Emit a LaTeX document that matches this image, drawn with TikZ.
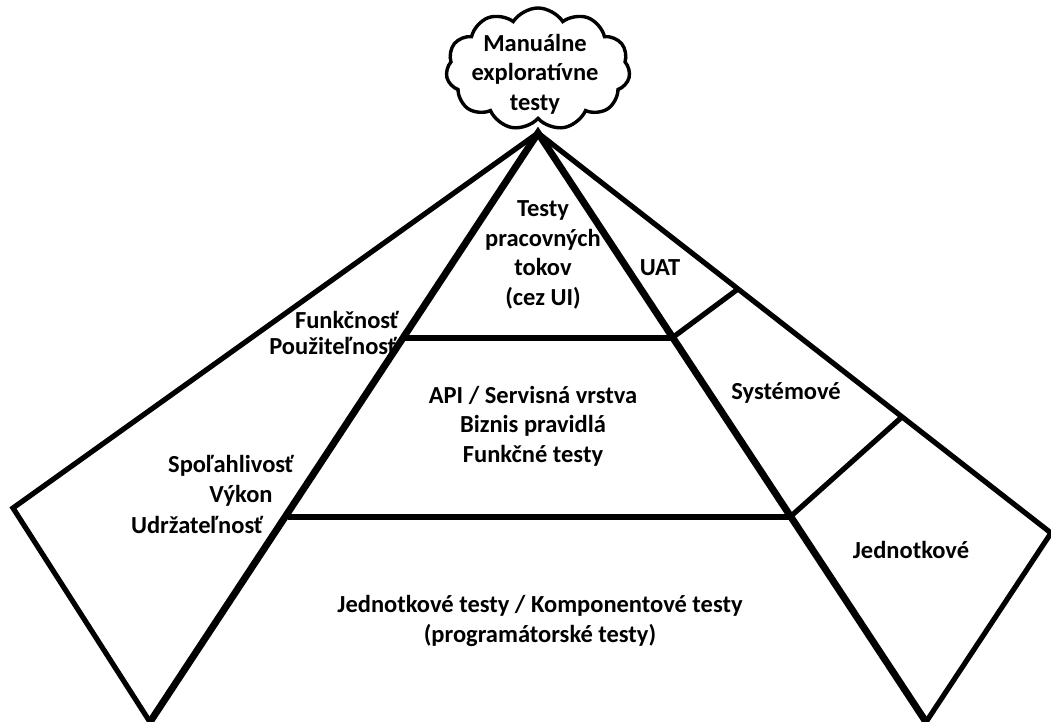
\documentclass[tikz,border=0pt]{standalone}
\usepackage{fontspec}
\setmainfont{Carlito}
\usetikzlibrary{shapes.symbols}
\begin{document}
\begin{tikzpicture}[x=1pt,y=-1pt,
  thick edge/.style={line width=7pt},
  thin edge/.style={line width=5.2pt},
  lbl/.style={font=\bfseries\fontsize{24.5}{29.5}\selectfont, align=center, inner sep=0pt},
  cloudbox/.style={cloud, cloud puffs=11, cloud puff arc=115, draw, line width=3.4pt,
    minimum width=184pt, minimum height=122pt, inner sep=0pt}]
\useasboundingbox (0,0) rectangle (1051,722);

% key points of the pyramid and its side panels
\coordinate (apex) at (538,133);
\coordinate (bl) at (150,722);
\coordinate (br) at (926,722);
\coordinate (ml) at (404,338);
\coordinate (mr) at (672,338);
\coordinate (ll) at (288,517);
\coordinate (lr) at (790,517);
\coordinate (wl) at (13,508);
\coordinate (wr) at (1051,533);
\coordinate (d1) at (738,289);
\coordinate (d2) at (903,416);

% side panels
\draw[thin edge] (apex) -- (wl) -- (bl);
\draw[thin edge] (apex) -- (wr) -- (br);
\draw[thin edge] (mr) -- (d1);
\draw[thin edge] (lr) -- (d2);

% pyramid and its layers
\draw[thick edge] (bl) -- (apex) -- (br);
\draw[thin edge] (ml) -- (mr);
\draw[thin edge] (ll) -- (lr);

% cloud on top
\node[cloudbox, fill=white] (cl) at (538,69) {};
\node[lbl] (cltext) at (535,74) {Manuálne\\exploratívne\\testy};

% labels inside the pyramid
\node[lbl] (top) at (543,255) {Testy\\pracovných\\tokov\\(cez UI)};
\node[lbl] (mid) at (533,426) {API / Servisná vrstva\\Biznis pravidlá\\Funkčné testy};
\node[lbl] (bot) at (540,621) {Jednotkové testy / Komponentové testy\\(programátorské testy)};

% labels of the right panel
\node[lbl] (uat) at (660,268) {UAT};
\node[lbl] (sys) at (786,393) {Systémové};
\node[lbl] (unit) at (911,550) {Jednotkové};

% labels of the left panel
\node[lbl, anchor=east] (fun) at (399,320) {Funkčnosť};
\node[lbl, anchor=east] (use) at (397,346) {Použiteľnosť};
\node[lbl] (rel) at (231,466) {Spoľahlivosť};
\node[lbl] (perf) at (241,496) {Výkon};
\node[lbl] (main) at (197,525) {Udržateľnosť};
\end{tikzpicture}
\end{document}
